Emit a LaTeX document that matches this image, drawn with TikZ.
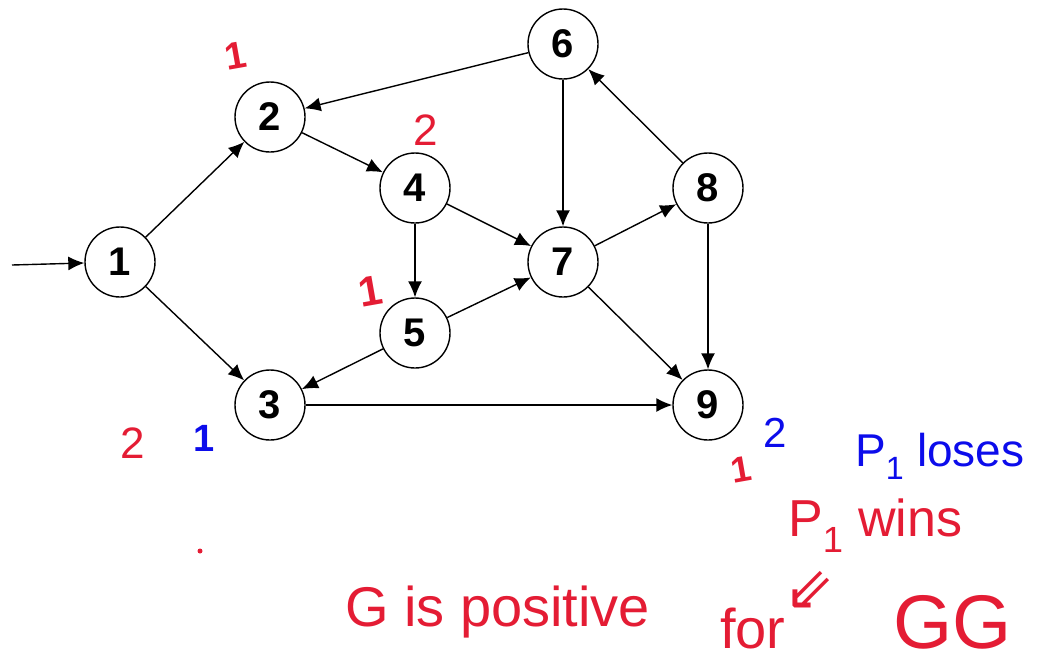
\documentclass[tikz,border=0pt]{standalone}
\usepackage{fontspec}
\setmainfont{Liberation Sans}
\newfontfamily\arrowfont{DejaVu Sans}
\usetikzlibrary{arrows.meta}
\definecolor{inkred}{RGB}{228,28,52}
\definecolor{inkblue}{RGB}{12,12,235}
\tikzset{
  vert/.style={circle, draw=black, line width=1.4pt, minimum size=70pt, inner sep=0pt, font=\fontsize{40}{42}\selectfont\bfseries},
  edge/.style={line width=1.4pt, -{Latex[length=16pt,width=14pt]}},
  redink/.style={text=inkred, inner sep=0pt},
  blueink/.style={text=inkblue, inner sep=0pt}
}
\begin{document}
\begin{tikzpicture}[x=1pt,y=-1pt]
\useasboundingbox (0,0) rectangle (1044,662);
% vertices
\node[vert] (n1) at (120,262) {1};
\node[vert] (n2) at (270,117) {2};
\node[vert] (n3) at (270,405) {3};
\node[vert] (n4) at (415,188) {4};
\node[vert] (n5) at (415,333) {5};
\node[vert] (n6) at (563,44) {6};
\node[vert] (n7) at (563,262) {7};
\node[vert] (n8) at (708,188) {8};
\node[vert] (n9) at (708,405) {9};
\coordinate (start) at (12,265);
% edges
\draw[edge] (start) -- (n1);
\draw[edge] (n1) -- (n2);
\draw[edge] (n1) -- (n3);
\draw[edge] (n6) -- (n2);
\draw[edge] (n2) -- (n4);
\draw[edge] (n4) -- (n5);
\draw[edge] (n4) -- (n7);
\draw[edge] (n5) -- (n7);
\draw[edge] (n5) -- (n3);
\draw[edge] (n6) -- (n7);
\draw[edge] (n7) -- (n8);
\draw[edge] (n8) -- (n6);
\draw[edge] (n7) -- (n9);
\draw[edge] (n8) -- (n9);
\draw[edge] (n3) -- (n9);
% handwritten annotations
\node[redink, font=\fontsize{38}{40}\selectfont\bfseries, rotate=10] (t2) at (236,56) {1};
\node[redink, font=\fontsize{44}{48}\selectfont] (v4) at (426,130) {2};
\node[redink, font=\fontsize{42}{44}\selectfont\bfseries, rotate=10] (t5) at (370,291) {1};
\node[redink, font=\fontsize{44}{48}\selectfont] (v3r) at (133,443) {2};
\node[blueink, font=\fontsize{38}{40}\selectfont\bfseries] (v3b) at (204,438) {1};
\node[redink, font=\fontsize{36}{38}\selectfont\bfseries, rotate=10] (t9) at (741,470) {1};
\node[blueink, font=\fontsize{42}{46}\selectfont] (v9b) at (775,433) {2};
\fill[inkred] (200,551) circle (2.5pt);
\node[blueink, font=\fontsize{46}{50}\selectfont, anchor=base west] (loses) at (855,466) {P\textsubscript{1} loses};
\node[redink, font=\fontsize{52}{56}\selectfont, anchor=base west] (wins) at (788,536) {P\textsubscript{1} wins};
\node[redink, font=\arrowfont\fontsize{60}{64}\selectfont] (arr) at (810,590) {⇙};
\node[redink, font=\fontsize{56}{60}\selectfont, anchor=base west] (gpos) at (345,626) {G is positive};
\node[redink, font=\fontsize{56}{60}\selectfont, anchor=base west] (for) at (720,648) {for};
\node[redink, font=\fontsize{76}{80}\selectfont, anchor=base west] (gg) at (893,648) {GG};
\end{tikzpicture}
\end{document}
